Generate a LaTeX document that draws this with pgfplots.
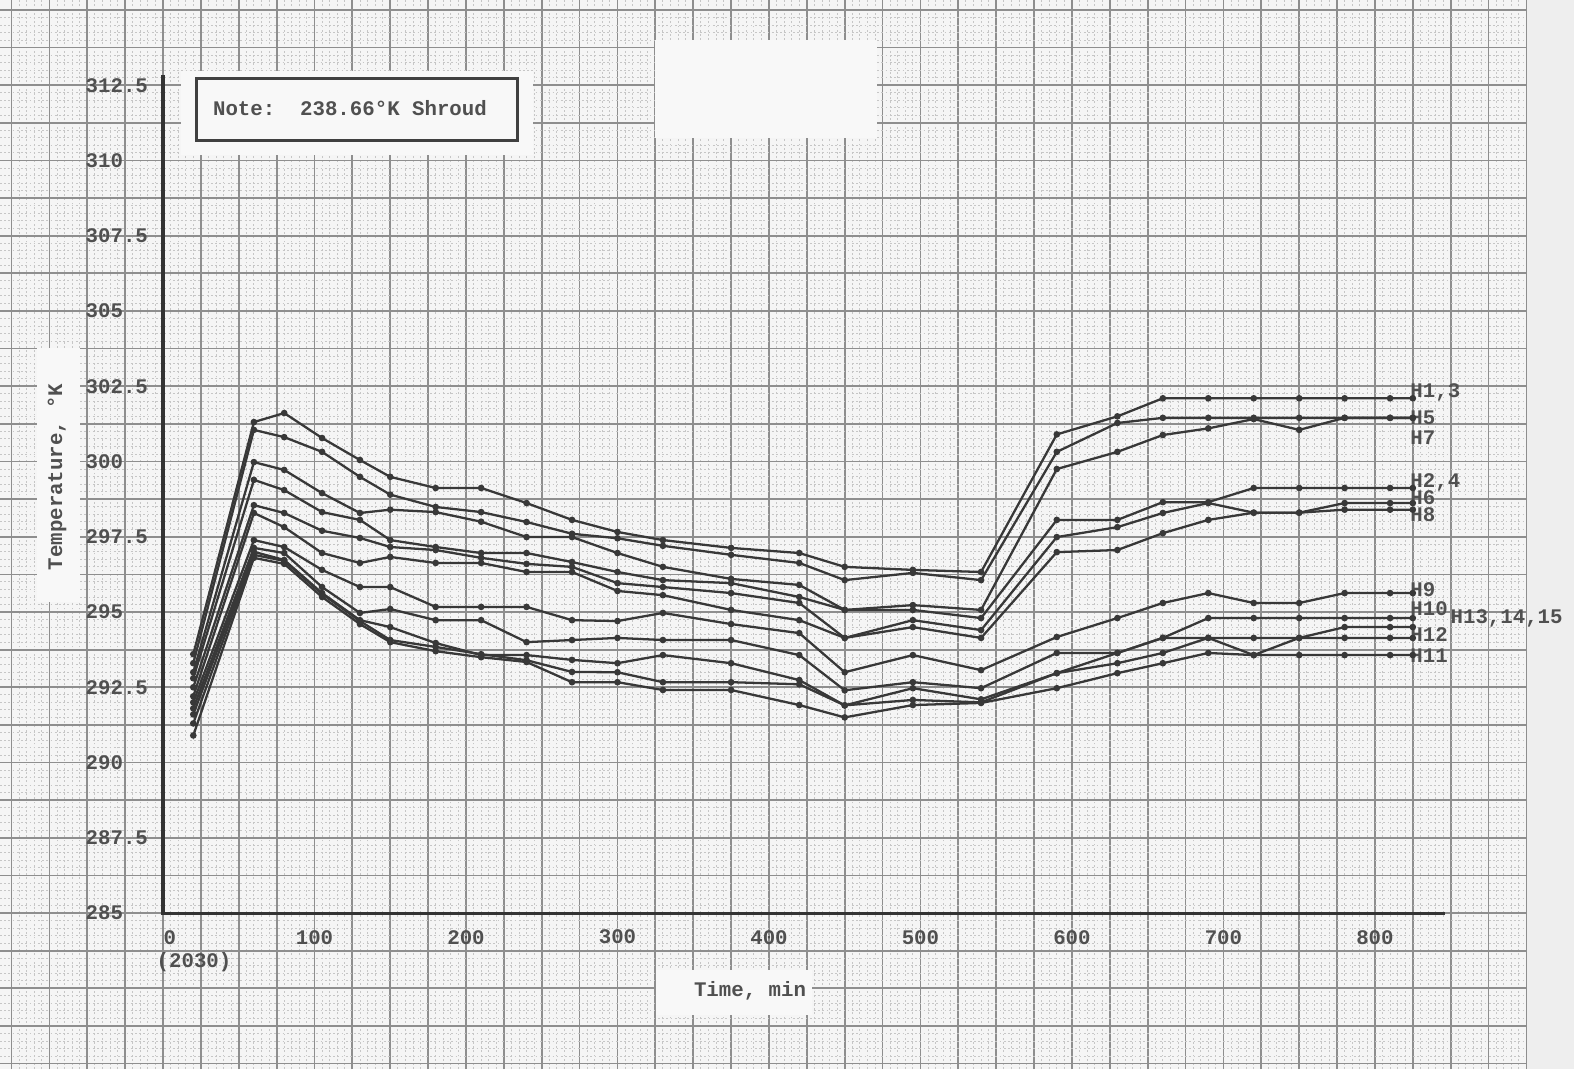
\documentclass[border=0pt]{standalone}
\usepackage{pgfplots}
\pgfplotsset{compat=1.18}
\usepackage{pgfplotstable}
\usepackage{fontspec}
\setmainfont{Liberation Mono}
\setmonofont{Liberation Mono}
\definecolor{paper}{HTML}{F5F5F5}
\definecolor{gridmajor}{HTML}{8E8E8E}
\definecolor{gridminor}{HTML}{C6C6C6}
\definecolor{linec}{HTML}{383838}
\definecolor{txt}{HTML}{505050}
\definecolor{patch}{HTML}{F8F8F8}
\definecolor{margin}{HTML}{EEEEEE}
\newcommand{\tl}{\fontsize{5.9}{7}\selectfont\bfseries\color{txt}}

\pgfplotstableread{
t A B C D E F G H I J K
20 293.6 293.3 293.0 292.8 292.5 292.2 292.0 291.8 291.6 291.3 290.9
60 301.31 301.05 299.98 299.39 298.55 298.29 297.39 297.13 297.0 296.9 296.8
80 301.61 300.81 299.72 299.05 298.29 297.82 297.16 296.96 296.73 296.7 296.6
105 300.78 300.32 298.95 298.32 297.7 296.96 296.4 295.83 295.63 295.6 295.5
130 300.05 299.49 298.29 298.06 297.46 296.63 295.83 294.97 294.73 294.7 294.6
150 299.49 298.9 298.4 297.39 297.16 296.83 295.83 295.1 294.5 294.07 294.0
180 299.12 298.49 298.32 297.16 297.06 296.63 295.17 294.73 293.97 293.84 293.7
210 299.12 298.32 298.0 296.96 296.8 296.63 295.17 294.73 293.57 293.6 293.5
240 298.62 297.99 297.49 296.96 296.6 296.33 295.17 294.0 293.57 293.4 293.34
270 298.06 297.6 297.49 296.66 296.5 296.33 294.73 294.07 293.41 293.01 292.67
300 297.66 297.45 296.96 296.33 295.96 295.7 294.7 294.14 293.3 293.0 292.67
330 297.39 297.2 296.5 296.06 295.83 295.56 294.97 294.07 293.57 292.67 292.41
375 297.13 296.9 296.1 295.96 295.63 295.07 294.6 294.07 293.3 292.67 292.41
420 296.96 296.63 295.9 295.5 295.3 294.73 294.3 293.57 292.74 292.6 291.91
450 296.5 296.06 295.07 295.07 294.14 294.14 293.0 292.4 291.9 291.9 291.5
495 296.4 296.3 295.23 295.07 294.73 294.5 293.57 292.67 292.47 292.08 291.91
540 296.33 296.06 295.07 294.8 294.4 294.14 293.07 292.47 292.1 292.0 291.98
590 300.9 300.32 299.75 298.06 297.49 296.99 294.17 293.64 292.97 292.97 292.47
630 301.5 301.28 300.32 298.06 297.82 297.06 294.8 293.64 293.3 293.64 292.97
660 302.1 301.45 300.88 298.65 298.29 297.62 295.3 294.14 293.64 294.14 293.3
690 302.1 301.45 301.1 298.65 298.62 298.06 295.63 294.8 294.14 294.14 293.64
720 302.1 301.45 301.41 299.12 298.3 298.3 295.3 294.8 293.57 294.14 293.57
750 302.1 301.45 301.05 299.12 298.3 298.3 295.3 294.8 294.14 294.14 293.57
780 302.1 301.45 301.45 299.12 298.62 298.4 295.63 294.8 294.5 294.14 293.57
810 302.1 301.45 301.45 299.12 298.62 298.4 295.63 294.8 294.5 294.14 293.57
825 302.1 301.45 301.45 299.12 298.62 298.4 295.63 294.8 294.5 294.14 293.57
}\data

\begin{document}
\begin{tikzpicture}
\begin{axis}[name=ax, scale only axis, width=157.4mm, height=106.9mm,
  xmin=-107.6, xmax=931.4, ymin=279.82, ymax=315.33,
  axis line style={draw=none},
  axis background/.style={fill=paper},
  xtick={-100,-75,...,900}, ytick={280,281.25,...,315},
  minor x tick num=4, minor y tick num=4,
  grid=both,
  major grid style={line width=0.5pt, color=gridmajor},
  minor grid style={line width=0.25pt, color=gridminor, dash pattern=on 0.5pt off 0.7pt},
  major tick length=0pt, minor tick length=0pt,
  xticklabels={}, yticklabels={},
  clip=false,
  dl/.style={color=linec, line width=0.65pt, mark=*, mark size=0.6pt, mark options={fill=linec}},
]
% paper margin and blank patches
\fill[margin] (axis cs:900.6,279.82) rectangle (axis cs:931.4,315.33);
\fill[patch] (axis cs:11.9,310.18) rectangle (axis cs:244.2,312.97);
\fill[patch] (axis cs:324.8,310.75) rectangle (axis cs:471.3,314.0);
\fill[patch] (axis cs:-83.2,295.33) rectangle (axis cs:-54.8,303.77);
\fill[patch] (axis cs:325.4,281.61) rectangle (axis cs:428.4,283.11);

\addplot[dl] table[x=t,y=A]{\data};
\addplot[dl] table[x=t,y=B]{\data};
\addplot[dl] table[x=t,y=C]{\data};
\addplot[dl] table[x=t,y=D]{\data};
\addplot[dl] table[x=t,y=E]{\data};
\addplot[dl] table[x=t,y=F]{\data};
\addplot[dl] table[x=t,y=G]{\data};
\addplot[dl] table[x=t,y=H]{\data};
\addplot[dl] table[x=t,y=I]{\data};
\addplot[dl] table[x=t,y=J]{\data};
\addplot[dl] table[x=t,y=K]{\data};

% axis lines
\addplot[black!80, line width=0.9pt, mark=none] coordinates {(0,312.84) (0,285) (846,285)};

% note box
\draw[black!75, line width=0.85pt] (axis cs:21.8,310.65) rectangle (axis cs:233.7,312.71);
\node[font=\tl, inner sep=0] at (axis cs:123.4,311.74) {Note:\ \ 238.66°K Shroud};

% y tick labels
\node[font=\tl, anchor=west, inner sep=0] at (axis cs:-51.5,312.5) {312.5};
\node[font=\tl, anchor=west, inner sep=0] at (axis cs:-51.5,310) {310};
\node[font=\tl, anchor=west, inner sep=0] at (axis cs:-51.5,307.5) {307.5};
\node[font=\tl, anchor=west, inner sep=0] at (axis cs:-51.5,305) {305};
\node[font=\tl, anchor=west, inner sep=0] at (axis cs:-51.5,302.5) {302.5};
\node[font=\tl, anchor=west, inner sep=0] at (axis cs:-51.5,300) {300};
\node[font=\tl, anchor=west, inner sep=0] at (axis cs:-51.5,297.5) {297.5};
\node[font=\tl, anchor=west, inner sep=0] at (axis cs:-51.5,295) {295};
\node[font=\tl, anchor=west, inner sep=0] at (axis cs:-51.5,292.5) {292.5};
\node[font=\tl, anchor=west, inner sep=0] at (axis cs:-51.5,290) {290};
\node[font=\tl, anchor=west, inner sep=0] at (axis cs:-51.5,287.5) {287.5};
\node[font=\tl, anchor=west, inner sep=0] at (axis cs:-51.5,285) {285};

% x tick labels
\node[font=\tl, anchor=west, inner sep=0] at (axis cs:0,284.2) {0};
\pgfplotsinvokeforeach{100,200,300,400,500,600,700,800}{
  \node[font=\tl, inner sep=0] at (axis cs:#1,284.2) {#1};
}
\node[font=\tl, inner sep=0] at (axis cs:20.5,283.37) {(2030)};

% axis titles
\node[font=\tl, inner sep=0, rotate=90] at (axis cs:-70,299.49) {Temperature, °K};
\node[font=\tl, inner sep=0] at (axis cs:387.5,282.41) {Time, min};

% series labels
\node[font=\tl, anchor=west, inner sep=0] at (axis cs:823,302.28) {H1,3};
\node[font=\tl, anchor=west, inner sep=0] at (axis cs:823,301.45) {H5};
\node[font=\tl, anchor=west, inner sep=0] at (axis cs:823,300.78) {H7};
\node[font=\tl, anchor=west, inner sep=0] at (axis cs:823,299.32) {H2,4};
\node[font=\tl, anchor=west, inner sep=0] at (axis cs:823,298.79) {H6};
\node[font=\tl, anchor=west, inner sep=0] at (axis cs:823,298.22) {H8};
\node[font=\tl, anchor=west, inner sep=0] at (axis cs:823,295.73) {H9};
\node[font=\tl, anchor=west, inner sep=0] at (axis cs:823,295.1) {H10};
\node[font=\tl, anchor=west, inner sep=0] at (axis cs:849.5,294.8) {H13,14,15};
\node[font=\tl, anchor=west, inner sep=0] at (axis cs:823,294.24) {H12};
\node[font=\tl, anchor=west, inner sep=0] at (axis cs:823,293.54) {H11};
\end{axis}
\pgfresetboundingbox
\useasboundingbox (ax.south west) rectangle (ax.north east);
\end{tikzpicture}
\end{document}
